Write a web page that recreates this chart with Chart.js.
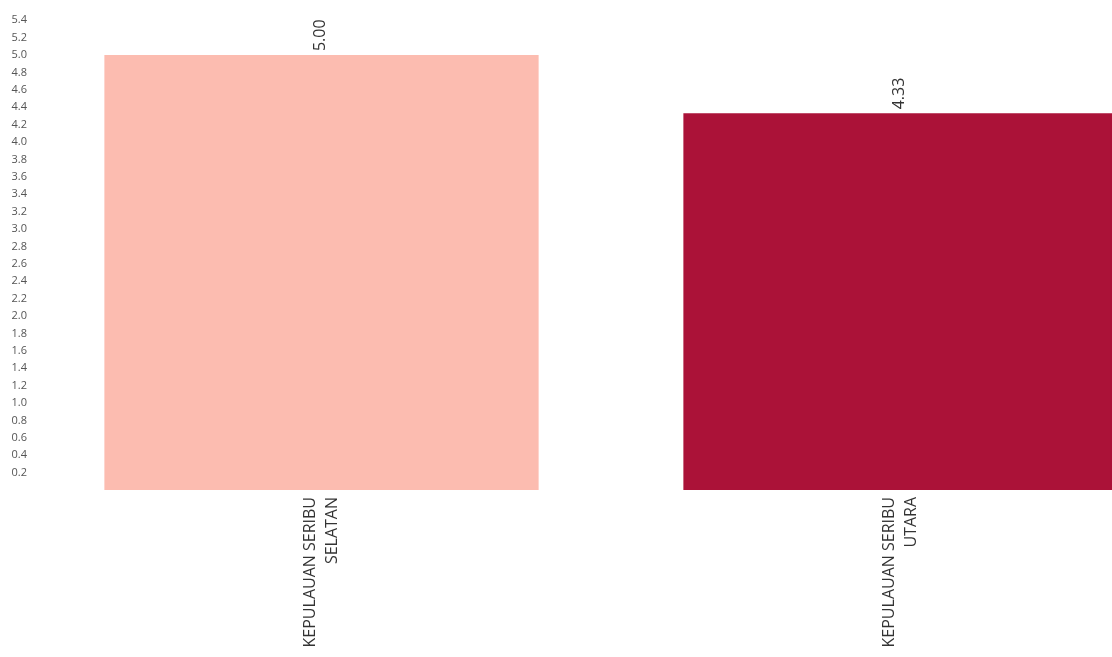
<!DOCTYPE html>
<html lang="id">
<head>
  <meta charset="UTF-8">
  <title>Kepulauan Seribu</title>
  <script src="https://cdn.jsdelivr.net/npm/chart.js"></script>
  <style>
    html, body {
      margin: 0;
      padding: 0;
      background: #ffffff;
      overflow: hidden;
    }
    .wrap {
      position: absolute;
      left: 0;
      top: 0;
      width: 1190px;
      height: 657px;
    }
  </style>
</head>
<body>
  <div class="wrap">
    <canvas id="barChart"></canvas>
  </div>
  <script>
    const categories = [
      ['KEPULAUAN SERIBU', 'SELATAN'],
      ['KEPULAUAN SERIBU', 'UTARA']
    ];
    const values = [5.00, 4.33];
    const barColors = ['#fcbcb0', '#ab1238'];

    // value labels above bars + centred two-line category labels, both rotated
    const rotatedText = {
      id: 'rotatedText',
      afterDatasetsDraw(chart) {
        const ctx = chart.ctx;
        const meta = chart.getDatasetMeta(0);
        const xScale = chart.scales.x;
        ctx.save();
        ctx.fillStyle = '#333333';
        ctx.font = '16px "Open Sans"';
        ctx.textBaseline = 'middle';
        meta.data.forEach((bar, i) => {
          ctx.save();
          ctx.translate(bar.x - 1, bar.y - 4);
          ctx.rotate(-Math.PI / 2);
          ctx.textAlign = 'left';
          ctx.fillText(values[i].toFixed(2), 0, 0);
          ctx.restore();

          const lines = categories[i];
          const lh = 22;
          const cx = xScale.getPixelForTick(i);
          const top = xScale.top + 7;
          lines.forEach((txt, j) => {
            ctx.save();
            ctx.translate(cx + (j - (lines.length - 1) / 2) * lh, top);
            ctx.rotate(-Math.PI / 2);
            ctx.textAlign = 'right';
            ctx.fillText(txt, 0, 0);
            ctx.restore();
          });
        });
        ctx.restore();
      }
    };

    new Chart(document.getElementById('barChart'), {
      type: 'bar',
      data: {
        labels: categories,
        datasets: [{
          data: values,
          backgroundColor: barColors,
          barPercentage: 1,
          categoryPercentage: 0.75
        }]
      },
      options: {
        responsive: true,
        maintainAspectRatio: false,
        animation: false,
        layout: { padding: 0 },
        plugins: {
          legend: { display: false },
          tooltip: { enabled: false }
        },
        scales: {
          x: {
            grid: { display: false },
            border: { display: false },
            ticks: { display: false },
            afterFit(scale) { scale.height = 167; }
          },
          y: {
            min: 0,
            max: 5.5,
            grid: { display: false, drawTicks: false },
            border: { display: false },
            afterBuildTicks(scale) {
              scale.ticks = [];
              for (let v = 2; v <= 54; v += 2) scale.ticks.push({ value: v / 10 });
            },
            ticks: {
              color: '#555555',
              font: { family: 'Open Sans', size: 11 },
              padding: 5,
              callback: v => v.toFixed(1)
            },
            afterFit(scale) { scale.width = 32; }
          }
        }
      },
      plugins: [rotatedText]
    });
  </script>
</body>
</html>
